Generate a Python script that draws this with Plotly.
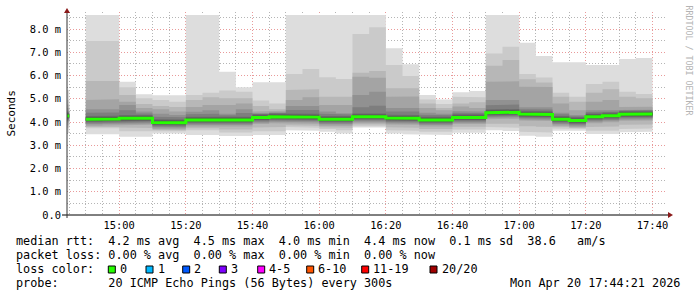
import plotly.graph_objects as go
from datetime import datetime, timedelta

# ---------------- data ----------------
day = "2026-04-20"
interval_start = ["14:40",
                  "14:50", "14:55", "15:00", "15:05", "15:10", "15:15", "15:20", "15:25",
                  "15:30", "15:35", "15:40", "15:45", "15:50", "15:55", "16:00", "16:05",
                  "16:10", "16:15", "16:20", "16:25", "16:30", "16:35", "16:40", "16:45",
                  "16:50", "16:55", "17:00", "17:05", "17:10", "17:15", "17:20", "17:25",
                  "17:30", "17:35"]

# sorted ping RTTs (ms) per interval, rank 1 (fastest) .. rank 20 (slowest)
p01 = [3.52, 3.47, 3.47, 3.37, 3.37, 3.51, 3.51, 3.44, 3.44, 3.40, 3.40, 3.44, 3.44, 3.65, 3.62, 3.58, 3.51, 3.76, 3.76, 3.51, 3.47, 3.44, 3.44, 3.54, 3.54, 3.65, 3.61, 3.41, 3.37, 3.62, 3.62, 3.48, 3.48, 3.56, 3.58]
p02 = [3.75, 3.73, 3.73, 3.60, 3.60, 3.62, 3.60, 3.65, 3.65, 3.55, 3.55, 3.60, 3.60, 3.78, 3.75, 3.70, 3.65, 3.82, 3.82, 3.65, 3.62, 3.58, 3.58, 3.68, 3.68, 3.78, 3.75, 3.58, 3.55, 3.72, 3.70, 3.62, 3.62, 3.70, 3.72]
p03 = [3.86, 3.79, 3.79, 3.76, 3.74, 3.66, 3.65, 3.73, 3.73, 3.68, 3.68, 3.76, 3.78, 3.86, 3.84, 3.77, 3.75, 3.89, 3.89, 3.77, 3.75, 3.70, 3.70, 3.80, 3.80, 3.92, 3.92, 3.82, 3.80, 3.78, 3.74, 3.79, 3.81, 3.88, 3.89]
p04 = [3.98, 3.84, 3.85, 3.88, 3.88, 3.70, 3.69, 3.81, 3.81, 3.81, 3.81, 3.91, 3.95, 3.93, 3.93, 3.84, 3.84, 3.95, 3.95, 3.89, 3.88, 3.81, 3.81, 3.91, 3.91, 4.12, 4.14, 4.06, 4.04, 3.84, 3.78, 3.95, 3.99, 4.05, 4.06]
p05 = [4.04, 3.90, 3.91, 3.94, 3.94, 3.76, 3.75, 3.87, 3.87, 3.87, 3.87, 3.97, 4.01, 3.99, 3.99, 3.90, 3.90, 4.01, 4.01, 3.95, 3.94, 3.87, 3.87, 3.97, 3.97, 4.18, 4.20, 4.12, 4.10, 3.90, 3.84, 4.01, 4.05, 4.11, 4.12]
p06 = [4.09, 3.95, 3.96, 3.99, 3.99, 3.81, 3.80, 3.92, 3.92, 3.92, 3.92, 4.02, 4.06, 4.04, 4.04, 3.95, 3.95, 4.06, 4.06, 4.00, 3.99, 3.92, 3.92, 4.02, 4.02, 4.23, 4.25, 4.17, 4.15, 3.95, 3.89, 4.06, 4.10, 4.16, 4.17]
p07 = [4.14, 4.00, 4.01, 4.04, 4.04, 3.86, 3.85, 3.97, 3.97, 3.97, 3.97, 4.07, 4.11, 4.09, 4.09, 4.00, 4.00, 4.11, 4.11, 4.05, 4.04, 3.97, 3.97, 4.07, 4.07, 4.28, 4.30, 4.22, 4.20, 4.00, 3.94, 4.11, 4.15, 4.21, 4.22]
p08 = [4.18, 4.04, 4.05, 4.08, 4.08, 3.90, 3.89, 4.01, 4.01, 4.01, 4.01, 4.11, 4.15, 4.13, 4.13, 4.04, 4.04, 4.15, 4.15, 4.09, 4.08, 4.01, 4.01, 4.11, 4.11, 4.32, 4.34, 4.26, 4.24, 4.04, 3.98, 4.15, 4.19, 4.25, 4.26]
p09 = [4.21, 4.07, 4.08, 4.11, 4.11, 3.93, 3.92, 4.04, 4.04, 4.04, 4.04, 4.14, 4.18, 4.16, 4.16, 4.07, 4.07, 4.18, 4.18, 4.12, 4.11, 4.04, 4.04, 4.14, 4.14, 4.35, 4.37, 4.29, 4.27, 4.07, 4.01, 4.18, 4.22, 4.28, 4.29]
p10 = [4.24, 4.10, 4.11, 4.14, 4.14, 3.96, 3.95, 4.07, 4.07, 4.07, 4.07, 4.17, 4.21, 4.19, 4.19, 4.10, 4.10, 4.21, 4.21, 4.15, 4.14, 4.07, 4.07, 4.17, 4.17, 4.38, 4.40, 4.32, 4.30, 4.10, 4.04, 4.21, 4.25, 4.31, 4.32]
p11 = [4.28, 4.14, 4.15, 4.18, 4.18, 4.00, 3.99, 4.11, 4.11, 4.11, 4.11, 4.21, 4.25, 4.23, 4.23, 4.14, 4.14, 4.25, 4.25, 4.19, 4.18, 4.11, 4.11, 4.21, 4.21, 4.42, 4.44, 4.36, 4.34, 4.14, 4.08, 4.25, 4.29, 4.35, 4.36]
p12 = [4.31, 4.17, 4.18, 4.21, 4.21, 4.03, 4.02, 4.14, 4.14, 4.14, 4.14, 4.24, 4.28, 4.26, 4.26, 4.17, 4.17, 4.28, 4.28, 4.22, 4.21, 4.14, 4.14, 4.24, 4.24, 4.45, 4.47, 4.39, 4.37, 4.17, 4.11, 4.28, 4.32, 4.38, 4.39]
p13 = [4.35, 4.21, 4.22, 4.25, 4.25, 4.07, 4.06, 4.18, 4.18, 4.18, 4.18, 4.28, 4.32, 4.30, 4.30, 4.21, 4.21, 4.32, 4.32, 4.26, 4.25, 4.18, 4.18, 4.28, 4.28, 4.49, 4.51, 4.43, 4.41, 4.21, 4.15, 4.32, 4.36, 4.42, 4.43]
p14 = [4.40, 4.26, 4.27, 4.30, 4.30, 4.12, 4.11, 4.23, 4.23, 4.23, 4.23, 4.33, 4.37, 4.35, 4.35, 4.26, 4.26, 4.37, 4.37, 4.31, 4.30, 4.23, 4.23, 4.33, 4.33, 4.54, 4.56, 4.48, 4.46, 4.26, 4.20, 4.37, 4.41, 4.47, 4.48]
p15 = [4.41, 4.40, 4.41, 4.51, 4.37, 4.23, 4.20, 4.33, 4.36, 4.29, 4.39, 4.35, 4.39, 4.52, 4.52, 4.35, 4.32, 4.63, 4.70, 4.45, 4.45, 4.31, 4.29, 4.40, 4.39, 4.72, 4.75, 4.55, 4.54, 4.33, 4.25, 4.43, 4.45, 4.49, 4.50]
p16 = [4.48, 4.55, 4.55, 4.73, 4.45, 4.35, 4.30, 4.44, 4.50, 4.35, 4.55, 4.38, 4.42, 4.69, 4.69, 4.45, 4.38, 5.16, 5.30, 4.60, 4.60, 4.40, 4.35, 4.47, 4.45, 4.95, 4.95, 4.63, 4.63, 4.40, 4.30, 4.50, 4.50, 4.52, 4.53]
p17 = [4.60, 4.95, 4.98, 4.87, 4.60, 4.55, 4.45, 4.65, 4.73, 4.73, 4.80, 4.45, 4.48, 4.95, 5.06, 4.73, 4.73, 5.95, 5.90, 5.09, 5.10, 4.60, 4.50, 4.67, 4.60, 5.73, 5.75, 5.52, 5.50, 4.80, 4.50, 4.87, 4.95, 4.65, 4.66]
p18 = [4.75, 5.76, 5.76, 5.16, 4.77, 4.69, 4.65, 4.95, 5.06, 5.02, 5.02, 4.69, 4.55, 5.38, 5.41, 5.09, 5.09, 6.12, 6.19, 5.45, 5.45, 4.80, 4.60, 4.80, 4.85, 6.42, 6.67, 5.84, 5.70, 5.09, 4.87, 5.26, 5.41, 5.09, 5.02]
p19 = [4.95, 7.48, 7.48, 5.49, 5.02, 4.95, 4.87, 5.16, 5.26, 5.35, 5.30, 4.92, 4.80, 6.06, 6.28, 5.92, 5.85, 7.78, 8.07, 6.45, 5.98, 4.97, 4.77, 5.09, 5.06, 6.95, 7.24, 6.06, 5.91, 5.26, 5.09, 5.63, 5.73, 5.30, 5.20]
p20 = [5.38, 8.60, 8.60, 5.73, 5.19, 5.15, 5.15, 8.60, 8.60, 6.16, 5.49, 5.71, 5.71, 8.60, 8.60, 8.60, 8.60, 8.60, 8.60, 7.17, 6.48, 5.16, 4.97, 5.28, 5.33, 8.60, 8.60, 7.41, 6.84, 6.57, 6.57, 6.45, 6.45, 6.71, 6.75]
median_ms = [4.26, 4.12, 4.13, 4.16, 4.16, 3.98, 3.97, 4.09, 4.09, 4.09, 4.09, 4.19, 4.23, 4.21, 4.21, 4.12, 4.12, 4.23, 4.23, 4.17, 4.16, 4.09, 4.09, 4.19, 4.19, 4.40, 4.42, 4.34, 4.32, 4.12, 4.06, 4.23, 4.27, 4.33, 4.34]

y_tick_vals = [0, 1, 2, 3, 4, 5, 6, 7, 8]
y_tick_text = ["0.0", "1.0 m", "2.0 m", "3.0 m", "4.0 m", "5.0 m", "6.0 m", "7.0 m", "8.0 m"]

legend_rtt = "median rtt:  4.2 ms avg  4.5 ms max  4.0 ms min  4.4 ms now  0.1 ms sd  38.6   am/s"
legend_loss = "packet loss: 0.00 % avg  0.00 % max  0.00 % min  0.00 % now"
loss_labels = ["0", "1", "2", "3", "4-5", "6-10", "11-19", "20/20"]
loss_colors = ["#26ff00", "#00b8ff", "#0059ff", "#7e00ff", "#ff00ff", "#ff5500", "#ff0000", "#a00000"]
probe_text = "probe:       20 ICMP Echo Pings (56 Bytes) every 300s"
stamp_text = "Mon Apr 20 17:44:21 2026"
credit_text = "RRDTOOL / TOBI OETIKER"
y_title = "Seconds"
x_start = "2026-04-20 14:44:21"
x_end = "2026-04-20 17:44:21"

# ---------------- layout helpers ----------------
L, T, W, H = 67, 12, 600, 203
FIG_W, FIG_H = 697, 297
def px(x):
    return (x - L) / W
def py(y):
    return (T + H - y) / H
def nb(s):
    return s.replace(" ", "\u00a0")

MONO = "DejaVu Sans Mono"

starts = [datetime.strptime(f"{day} {t}", "%Y-%m-%d %H:%M") for t in interval_start]
step = timedelta(minutes=5)
segs, cur = [], [0]
for k in range(1, len(starts)):
    if starts[k] - starts[k - 1] == step:
        cur.append(k)
    else:
        segs.append(cur)
        cur = [k]
segs.append(cur)

def step_path(idx, vals):
    xs, ys = [], []
    for k in idx:
        xs += [starts[k], starts[k] + step]
        ys += [vals[k], vals[k]]
    return xs, ys

ranks = [p01, p02, p03, p04, p05, p06, p07, p08, p09, p10,
         p11, p12, p13, p14, p15, p16, p17, p18, p19, p20]

fig = go.Figure()
half = 10
for b in range(half):
    lo, hi = ranks[b], ranks[19 - b]
    g = int(190 / half * (half - (b + 1))) + 50
    col = f"rgb({g},{g},{g})"
    for idx in segs:
        xu, yu = step_path(idx, hi)
        xl, yl = step_path(idx, lo)
        fig.add_trace(go.Scatter(x=xu + xl[::-1], y=yu + yl[::-1], mode="lines",
                                 fill="toself", fillcolor=col, line=dict(width=0, color=col),
                                 hoverinfo="skip"))

mx, my = [], []
for idx in segs:
    xs, ys = step_path(idx, median_ms)
    mx += xs + [None]
    my += ys + [None]
fig.add_trace(go.Scatter(x=mx, y=my, mode="lines", line=dict(color="#26ff00", width=3),
                         hoverinfo="skip"))

# grid positions
t0 = datetime.strptime(x_start, "%Y-%m-%d %H:%M:%S")
t1 = datetime.strptime(x_end, "%Y-%m-%d %H:%M:%S")
minor_x = []
t = datetime.strptime(f"{day} 14:45", "%Y-%m-%d %H:%M")
while t <= t1:
    if t.minute % 20 != 0:
        minor_x.append(t)
    t += step
minor_y = [v + 0.5 for v in y_tick_vals]

MAJ = "rgba(225,120,120,0.75)"
MIN = "rgba(150,150,150,0.7)"
ymax = H / 23.25

fig.update_layout(
    width=FIG_W, height=FIG_H,
    margin=dict(l=L, r=FIG_W - L - W, t=T, b=FIG_H - T - H),
    paper_bgcolor="white", plot_bgcolor="white", showlegend=False,
    xaxis=dict(type="date", range=[t0, t1], dtick=1200000, tick0=f"{day} 15:00",
               tickformat="%H:%M", showgrid=True, gridcolor=MAJ, griddash="1px,2px",
               gridwidth=1, zeroline=False, showline=False, ticks="",
               tickfont=dict(family=MONO, size=10.4, color="#000"),
               ticklabelstandoff=3,
               layer="above traces",
               minor=dict(tickvals=minor_x, showgrid=True, gridcolor=MIN,
                          griddash="1px,2px", gridwidth=1, ticks="")),
    yaxis=dict(range=[0, ymax], tickvals=y_tick_vals, ticktext=y_tick_text,
               showgrid=True, gridcolor=MAJ, griddash="1px,2px", gridwidth=1,
               zeroline=False, showline=False, ticks="",
               tickfont=dict(family=MONO, size=10.4, color="#000"),
               ticklabelstandoff=5,
               layer="above traces",
               minor=dict(tickvals=minor_y, showgrid=True, gridcolor=MIN,
                          griddash="1px,2px", gridwidth=1, ticks="")),
)

shapes = []
# axis lines
shapes.append(dict(type="line", xref="paper", yref="paper", x0=px(62), x1=px(668),
                   y0=py(215), y1=py(215), line=dict(color="#000", width=1)))
shapes.append(dict(type="line", xref="paper", yref="paper", x0=px(67), x1=px(67),
                   y0=py(218), y1=py(12), line=dict(color="#333", width=1)))
# arrows
shapes.append(dict(type="path", xref="paper", yref="paper",
                   path=f"M {px(668)} {py(212)} L {px(673)} {py(215)} L {px(668)} {py(218)} Z",
                   fillcolor="#8b1a1a", line=dict(width=0)))
shapes.append(dict(type="path", xref="paper", yref="paper",
                   path=f"M {px(64)} {py(13)} L {px(67)} {py(8)} L {px(70)} {py(13)} Z",
                   fillcolor="#8b1a1a", line=dict(width=0)))
# loss colour boxes
box_left = [108.3, 146, 182.7, 219.3, 257.7, 306.7, 361.7, 430]
for bx, c in zip(box_left, loss_colors):
    shapes.append(dict(type="rect", xref="paper", yref="paper",
                       x0=px(bx), x1=px(bx + 7), y0=py(273), y1=py(266),
                       fillcolor=c, line=dict(color="#000", width=1)))
fig.update_layout(shapes=shapes)

LEG = 11.8
ann = []
def text(x, y, s, size=LEG, xanchor="left", color="#000", angle=0):
    ann.append(dict(xref="paper", yref="paper", x=px(x), y=py(y), text=nb(s),
                    showarrow=False, xanchor=xanchor, yanchor="middle",
                    font=dict(family=MONO, size=size, color=color),
                    borderpad=0, borderwidth=0, textangle=angle))

text(16, 240.8, legend_rtt)
text(16, 254.8, legend_loss)
text(16, 269.0, "loss color:")
for bx, lab in zip(box_left, loss_labels):
    text(bx + 11.7, 269.0, lab)
text(16, 283.0, probe_text)
text(680, 283.0, stamp_text, xanchor="right")
ann.append(dict(xref="paper", yref="paper", x=px(11), y=py(113.5), text=y_title,
                showarrow=False, xanchor="center", yanchor="middle", textangle=-90,
                font=dict(family=MONO, size=11, color="#000")))
ann.append(dict(xref="paper", yref="paper", x=px(688.5), y=py(60), text=nb(credit_text),
                showarrow=False, xanchor="center", yanchor="middle", textangle=90,
                font=dict(family=MONO, size=8.3, color="#b4b4b4")))
fig.update_layout(annotations=ann)

fig.write_html("out.html")
